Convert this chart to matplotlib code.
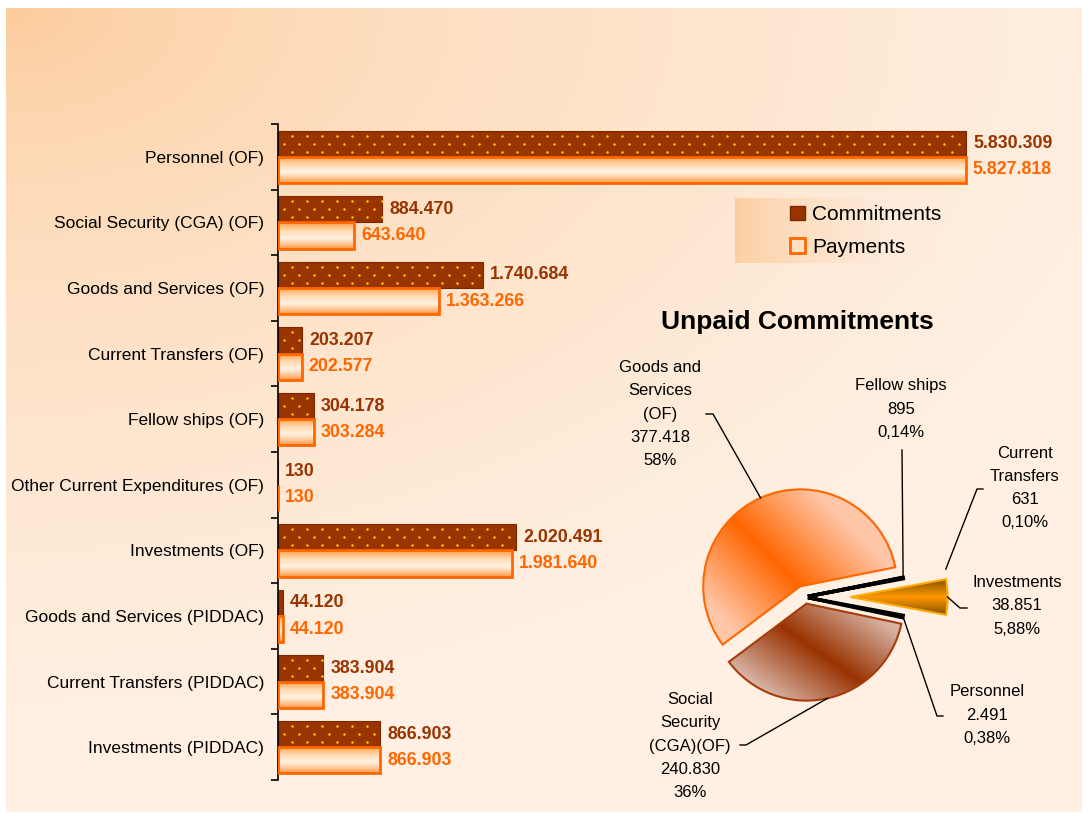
import numpy as np
import matplotlib.pyplot as plt
from matplotlib.colors import to_rgb, LinearSegmentedColormap
from matplotlib.patches import Patch

plt.rcParams['font.family'] = ['Liberation Sans', 'DejaVu Sans']

W, H = 1088, 817

# --- data ---
categories = ['Personnel (OF)', 'Social Security (CGA) (OF)', 'Goods and Services (OF)',
              'Current Transfers (OF)', 'Fellow ships (OF)', 'Other Current Expenditures (OF)',
              'Investments (OF)', 'Goods and Services (PIDDAC)', 'Current Transfers (PIDDAC)',
              'Investments (PIDDAC)']
commitments = [5830309, 884470, 1740684, 203207, 304178, 130, 2020491, 44120, 383904, 866903]
payments = [5827818, 643640, 1363266, 202577, 303284, 130, 1981640, 44120, 383904, 866903]

pie_names = ['Personnel', 'Social\nSecurity\n(CGA)(OF)', 'Goods and\nServices\n(OF)',
             'Current\nTransfers', 'Fellow ships', 'Investments']
pie_values = [2491, 240830, 377418, 631, 895, 38851]
pie_pct = ['0,38%', '36%', '58%', '0,10%', '0,14%', '5,88%']


def fmt(v):
    return f'{v:,}'.replace(',', '.')


def fx(px):
    return px / W


def fy(py):
    return 1 - py / H


def lerp(c0, c1, t):
    c0 = np.array(to_rgb(c0))
    c1 = np.array(to_rgb(c1))
    return c0 + (c1 - c0) * t[..., None]


fig = plt.figure(figsize=(W / 100, H / 100), dpi=100)
fig.patch.set_facecolor('white')

# background gradient
bg = fig.add_axes([fx(6), fy(812), fx(1082) - fx(6), fy(8) - fy(812)])
bg.axis('off')
u, v = np.meshgrid(np.linspace(0, 1, 400), np.linspace(0, 1, 300))
t = np.clip(np.sqrt((u / 1.1) ** 2 + (v / 0.9) ** 2), 0, 1) ** 0.6
bg.imshow(lerp('#FCCA98', '#FFF0E3', t), extent=(0, 1, 0, 1), origin='upper', aspect='auto')
bg.set_xlim(0, 1)
bg.set_ylim(0, 1)

# --- bar chart ---
ax = fig.add_axes([fx(278), fy(780), fx(1082) - fx(278), fy(124) - fy(780)])
ax.patch.set_alpha(0)
n = len(categories)
y = np.arange(n)
xmax = 5830309 * 804 / 688

com_bars = ax.barh(y - 0.2, commitments, height=0.4, color='#993300',
                   edgecolor='#7A2800', linewidth=0.8, zorder=2)
pay_bars = ax.barh(y + 0.2, payments, height=0.4, facecolor='none',
                   edgecolor='#FF6600', linewidth=2, zorder=3)

# payments gradient fill
pay_cmap = LinearSegmentedColormap.from_list(
    'pay', [(0, '#FF9A40'), (0.3, '#FFD8AE'), (0.6, '#FFF3E2'), (0.85, '#FFC08A'), (1, '#FF9640')])
grad = np.linspace(0, 1, 64)[:, None]
for b in pay_bars:
    if b.get_width() <= 0:
        continue
    x0, y0, w, h = b.get_x(), b.get_y(), b.get_width(), b.get_height()
    im = ax.imshow(grad, cmap=pay_cmap, extent=(x0, x0 + w, y0 + h, y0), origin='upper',
                   aspect='auto', zorder=2.5, interpolation='bilinear')
    im.set_clip_path(b)

# dotted pattern on commitments
sp = 15 * xmax / 804
for b in com_bars:
    x0, y0, w, h = b.get_x(), b.get_y(), b.get_width(), b.get_height()
    if w < sp:
        continue
    xs, ys = [], []
    for k, f in enumerate([0.19, 0.5, 0.8]):
        shift = 0.9 if k % 2 == 0 else 0.4
        cols = np.arange(shift * sp, w, sp)
        xs.extend(cols)
        ys.extend([y0 + f * h] * len(cols))
    sc = ax.scatter(xs, ys, marker='o', s=3.2, color='#FFCC00', linewidths=0, zorder=2.6)
    sc.set_clip_path(b)

for i in range(n):
    ax.annotate(fmt(commitments[i]), (commitments[i], i - 0.2), xytext=(5, 0),
                textcoords='offset points', va='center', ha='left', fontsize=12.8,
                fontweight='bold', color='#993300')
    ax.annotate(fmt(payments[i]), (payments[i], i + 0.2), xytext=(5, 0),
                textcoords='offset points', va='center', ha='left', fontsize=12.8,
                fontweight='bold', color='#FF6600')

ax.set_xlim(0, xmax)
ax.set_ylim(n - 0.5, -0.5)
ax.set_yticks(y)
ax.set_yticklabels(categories, fontsize=12.5)
ax.set_yticks(np.arange(-0.5, n, 1), minor=True)
ax.tick_params(axis='y', which='major', length=0, pad=10)
ax.tick_params(axis='y', which='minor', length=5, width=1.2, direction='out')
ax.set_xticks([])
for s in ['top', 'right', 'bottom']:
    ax.spines[s].set_visible(False)
ax.spines['left'].set_linewidth(1.2)

# legend with gradient box
lg = fig.add_axes([fx(735), fy(263), fx(935) - fx(735), fy(198) - fy(263)])
lg.axis('off')
gl = np.linspace(0, 1, 200)[None, :]
lg.imshow(lerp('#FCCE9F', '#FEEBDC', np.clip(gl * 1.3, 0, 1) ** 0.7), extent=(0, 1, 0, 1),
          aspect='auto')
handles = [Patch(facecolor='#993300', edgecolor='#7A2800'),
           Patch(facecolor='#FFE2C4', edgecolor='#FF6600', linewidth=2)]
fig.legend(handles, ['Commitments', 'Payments'], loc='center left',
           bbox_to_anchor=(fx(790), fy(231)), frameon=False, fontsize=15,
           handlelength=0.7, handleheight=0.7, handletextpad=0.35, labelspacing=0.65,
           borderpad=0, borderaxespad=0)

# --- pie chart ---
cx, cy, R = 805, 597, 97
pax = fig.add_axes([fx(600), fy(812), fx(1082) - fx(600), fy(330) - fy(812)])
wedges, _ = pax.pie(pie_values, startangle=-10.6, counterclock=False,
                    explode=[0.03, 0.07, 0.12, 0.03, 0.03, 0.47], radius=1)
pax.set_xlim((600 - cx) / R, (1082 - cx) / R)
pax.set_ylim((cy - 812) / R, (cy - 330) / R)
pax.set_aspect('equal')
pax.axis('off')


def pd(px, py):
    return (px - cx) / R, (cy - py) / R


def mid_point(w, f=1.0):
    a = np.deg2rad((w.theta1 + w.theta2) / 2)
    return w.center[0] + f * w.r * np.cos(a), w.center[1] + f * w.r * np.sin(a)


gx, gy = np.meshgrid(np.linspace(-2.2, 3.0, 520), np.linspace(-2.3, 2.8, 510))


def shade(w, p0, phi, half, c_mid, c_out, edge):
    a = np.deg2rad(phi)
    d = np.abs((gx - p0[0]) * -np.sin(a) + (gy - p0[1]) * np.cos(a))
    tt = np.clip(d / half, 0, 1)
    im = pax.imshow(lerp(c_mid, c_out, tt), extent=(-2.2, 3.0, -2.3, 2.8), origin='lower',
                    aspect='auto', zorder=1.5, interpolation='bilinear')
    im.set_clip_path(w)
    w.set_facecolor('none')
    w.set_edgecolor(edge)
    w.set_linewidth(1.5)
    w.set_zorder(2)


# goods
wg = wedges[2]
shade(wg, wg.center, 135, 0.8, '#FF6600', '#FFC6A8', '#FF6600')
# social
ws = wedges[1]
shade(ws, mid_point(ws, 0.5), -35, 0.65, '#993300', '#D8B4A6', '#A63C0C')
# investments
wi = wedges[5]
shade(wi, wi.center, (wi.theta1 + wi.theta2) / 2, 0.2, '#FF9900', '#7A4A00', '#FFAA00')
# small slices
for k in [0, 3, 4]:
    wedges[k].set_facecolor('black')
    wedges[k].set_edgecolor('black')
    wedges[k].set_linewidth(2.5)
    wedges[k].set_zorder(2)

# labels: (label centre pixel, elbow pixels, anchor factor)
label_pos = [(987, 715), (690, 746), (660, 414), (1025, 488), (901, 409), (1017, 606)]
elbows = [[(943, 716), (937, 716)], [(740, 745), (746, 745)], [(706, 414), (713, 414)],
          [(983, 489), (977, 489)], [(902, 450)], [(967, 608), (960, 608)]]
anchor_f = [1.0, 1.0, 1.0, 1.45, 1.0, 1.0]

for k in range(len(pie_values)):
    txt = f'{pie_names[k]}\n{fmt(pie_values[k])}\n{pie_pct[k]}'
    lx, ly = pd(*label_pos[k])
    pax.text(lx, ly, txt, ha='center', va='center', multialignment='center',
             fontsize=12, linespacing=1.68)
    pts = [pd(*p) for p in elbows[k]] + [mid_point(wedges[k], anchor_f[k])]
    pax.plot([p[0] for p in pts], [p[1] for p in pts], color='black', lw=1,
             clip_on=False, zorder=3)

fig.text(fx(797), fy(322), 'Unpaid Commitments', ha='center', va='center',
         fontsize=19, fontweight='bold')

fig.savefig('out.png', dpi=100, facecolor='white')
